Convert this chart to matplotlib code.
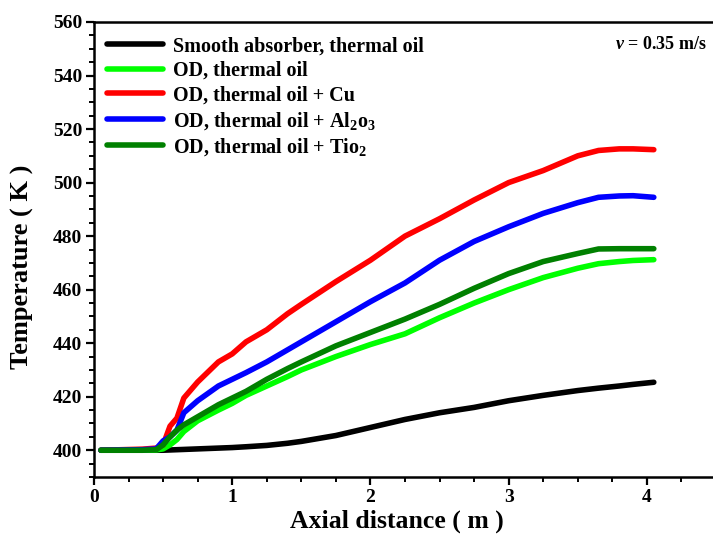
import matplotlib
matplotlib.use("Agg")
import matplotlib.pyplot as plt
from matplotlib.ticker import MultipleLocator

plt.rcParams['font.family'] = ['Liberation Serif', 'DejaVu Serif']
plt.rcParams['font.weight'] = 'bold'
plt.rcParams['mathtext.fontset'] = 'custom'
plt.rcParams['mathtext.rm'] = 'Liberation Serif:bold'
plt.rcParams['mathtext.bf'] = 'Liberation Serif:bold'
plt.rcParams['mathtext.it'] = 'Liberation Serif:italic'

x = [0.05, 0.2, 0.35, 0.45, 0.5, 0.55, 0.6, 0.65, 0.75, 0.9, 1.0, 1.1, 1.25, 1.4, 1.5,
     1.75, 2.0, 2.25, 2.5, 2.75, 3.0, 3.25, 3.5, 3.65, 3.8, 3.9, 4.05]

smooth = [400, 400, 400, 400, 400, 400.1, 400.2, 400.3, 400.5, 400.8, 401, 401.3, 401.8, 402.6, 403.3,
          405.5, 408.5, 411.5, 414, 416, 418.5, 420.5, 422.3, 423.2, 424, 424.6, 425.4]
od_oil = [400, 400, 400, 400.1, 400.5, 402, 404, 407, 411, 415, 417.5, 420.5, 424, 427.5, 430,
          435, 439.5, 443.5, 449.5, 455, 460, 464.5, 468, 469.7, 470.5, 470.9, 471.2]
od_cu = [400, 400.2, 400.4, 400.8, 402, 409, 412, 419.5, 425.5, 433, 436, 440.5, 445, 451, 454.5,
         463, 471, 480, 486.5, 493.5, 500, 504.5, 510, 512, 512.6, 512.6, 512.3]
od_al2o3 = [400, 400.1, 400.2, 400.5, 403.5, 405, 407.5, 414, 418.5, 424, 426.5, 429, 433, 437.5, 440.5,
            448, 455.5, 462.5, 471, 478, 483.5, 488.5, 492.5, 494.5, 495, 495.1, 494.5]
od_tio2 = [400, 400, 400, 400.2, 402, 405, 407.5, 409.5, 412.5, 417, 419.5, 422, 426.5, 430.5, 433,
           439, 444, 449, 454.5, 460.5, 466, 470.5, 473.5, 475.2, 475.3, 475.3, 475.3]

labels = ["Smooth absorber, thermal oil",
          "OD, thermal oil",
          "OD, thermal oil + Cu",
          "OD, thermal oil + Al$_2$o$_3$",
          "OD, thermal oil + Tio$_2$"]
colors = ["black", "#00ff00", "#ff0000", "#0000ff", "#008000"]
series = [smooth, od_oil, od_cu, od_al2o3, od_tio2]

fig = plt.figure(figsize=(7.13, 5.52), dpi=100)
ax = fig.add_axes([94/713, 75/552, 622/713, 455/552])

for s, c, l in zip(series, colors, labels):
    ax.plot(x, s, color=c, lw=4, label=l, solid_capstyle='round')

ax.set_xlim(0, 4.5)
ax.set_ylim(390, 560)
ax.xaxis.set_major_locator(MultipleLocator(1))
ax.xaxis.set_minor_locator(MultipleLocator(0.25))
ax.set_yticks(range(400, 561, 20))
ax.yaxis.set_minor_locator(MultipleLocator(5))

for sp in ax.spines.values():
    sp.set_linewidth(1.8)
ax.tick_params(which='major', direction='out', length=6, width=1.6, labelsize=14, pad=2.5)
ax.tick_params(which='minor', direction='out', length=3.5, width=1.4)
for lab in ax.get_xticklabels() + ax.get_yticklabels():
    lab.set_fontweight('bold')

ax.set_xlabel("Axial distance ( m )", fontsize=18.5, fontweight='bold')
ax.set_ylabel("Temperature ( K )", fontsize=19, fontweight='bold')
ax.xaxis.set_label_coords(0.487, -0.072)
ax.yaxis.set_label_coords(-0.097, 0.462)

leg = ax.legend(loc='upper left', bbox_to_anchor=(-0.008, 1.008), frameon=False,
                handlelength=2.75, handletextpad=0.5,
                labelspacing=0.22, borderaxespad=0.5, prop={'weight': 'bold', 'size': 14.5})

ax.text(0.985, 0.95, "$v$ = 0.35 m/s", transform=ax.transAxes, ha='right', va='center',
        fontsize=13, fontweight='bold')

fig.savefig("out.png", dpi=100)
